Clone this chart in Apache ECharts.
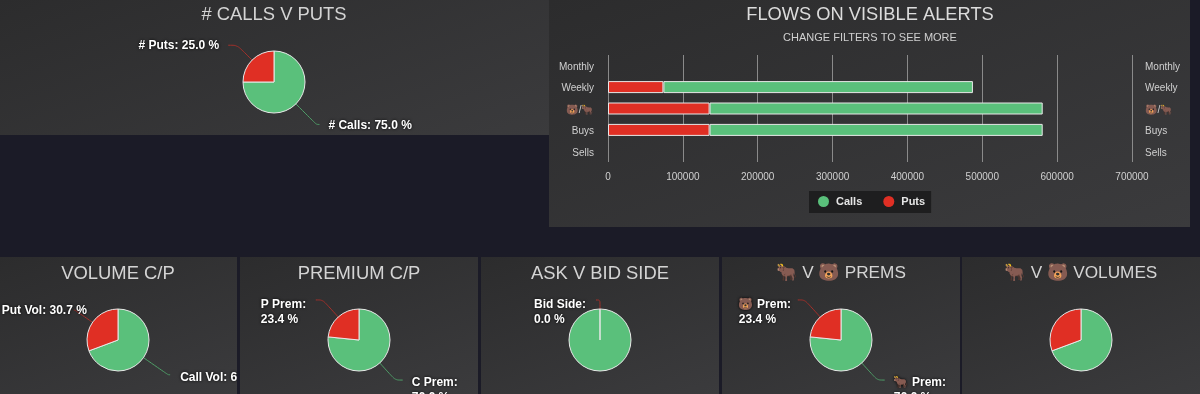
<!DOCTYPE html>
<html><head><meta charset="utf-8">
<style>
html,body{margin:0;padding:0;background:#1b1b27;width:1200px;height:394px;overflow:hidden}
.p{position:absolute;background:linear-gradient(160deg,#2c2c2d 0%,#3b3b3d 100%);overflow:hidden}
</style>
<script src="https://cdn.jsdelivr.net/npm/echarts@6/dist/echarts.min.js"></script>
</head><body>
<script>
const flowCategories = ['Monthly','Weekly','🐻/🐂','Buys','Sells'];
const flowPuts  = [0, 74000, 135700, 135700, 0];
const flowCalls = [0, 413500, 445000, 445000, 0];
const countNames = ['# Calls','# Puts'];
const countValues = [75.0, 25.0];
const volumeNames = ['Call Vol','Put Vol'];
const volumeValues = [69.3, 30.7];
const premiumNames = ['C Prem','P Prem'];
const premiumValues = [76.6, 23.4];
const sideNames = ['Ask Side','Bid Side'];
const sideValues = [100.0, 0.0];
const bullBearPremNames = ['🐂 Prem','🐻 Prem'];
const bullBearPremValues = [76.6, 23.4];
const bullBearVolNames = ['🐂 Vol','🐻 Vol'];
const bullBearVolValues = [69.3, 30.7];

const GREEN='#5ac07b', RED='#e02f24', FONT='"Liberation Sans","Noto Color Emoji",sans-serif';
function panel(x,y,w,h){
  const d=document.createElement('div');d.className='p';
  d.style.cssText=`left:${x}px;top:${y}px;width:${w}px;height:${h}px`;
  document.body.appendChild(d);
  return echarts.init(d,null,{renderer:'canvas'});
}
function pie(box,title,names,values,o){
  const c=panel(...box);
  const base={color:'#fff',fontSize:12,fontWeight:'bold',fontFamily:FONT,lineHeight:15,textShadowColor:'#000',textShadowBlur:3};
  c.setOption({
    animation:false,
    title:{text:title,left:o.cx,top:o.ty,padding:0,textAlign:'center',textStyle:{color:'#d4d4d4',fontSize:o.ts||18.4,fontWeight:'normal',fontFamily:FONT}},
    series:[{type:'pie',center:[o.cx,o.cy],radius:[0,31],startAngle:o.start||90,clockwise:true,stillShowZeroSum:true,
      silent:true,avoidLabelOverlap:false,
      itemStyle:{borderColor:'#e8e8e8',borderWidth:1},
      label:{...base,overflow:'none'},
      data:names.map((n,i)=>{
        const l=(o.lab||[])[i];
        const wrap=l&&l.width;
        return {name:n,value:values[i],
          itemStyle:{color:i?RED:GREEN},
          label:l?{show:true,distanceToLabelLine:l.dist,padding:[l.pad||0,0,0,0],
            formatter:wrap?`{a|${n}:}\n{a|${values[i].toFixed(1)} %}`:`{a|${n}: ${values[i].toFixed(1)} %}`,
            rich:{a:wrap?{...base,width:l.width,align:'left'}:{...base}}}:{show:false},
          labelLine:l?{show:true,length:l.len,length2:l.len2,smooth:true,lineStyle:{width:1,color:i?'#a5302a':'#4f9e68'}}:{show:false}};
      })
    }]
  });
}
pie([0,0,549,135],'# CALLS V PUTS',countNames,countValues,{cx:274,cy:82,ty:6,
  lab:[{len:29,len2:3,dist:9,pad:2},{len:21,len2:9,dist:9}]});
const by=257,bh=137;
pie([0,by,237,bh],'VOLUME C/P',volumeNames,volumeValues,{cx:118,cy:83,ty:8,
  lab:[{len:30,len2:2,dist:10,pad:6},{len:21.5,len2:1,dist:-13,pad:2}]});
pie([240,by,238,bh],'PREMIUM C/P',premiumNames,premiumValues,{cx:119,cy:83,ty:8,
  lab:[{len:23,len2:7.5,dist:9,pad:21,width:46},{len:23,len2:7,dist:9,pad:24,width:46}]});
pie([481,by,238,bh],'ASK V BID SIDE',sideNames,sideValues,{cx:119,cy:83,ty:8,start:90.0001,
  lab:[null,{len:9,len2:4,dist:10,pad:25,width:52}]});
pie([722,by,238,bh],'🐂 V 🐻 PREMS',bullBearPremNames,bullBearPremValues,{cx:119,cy:83,ty:8,ts:17.2,
  lab:[{len:23,len2:7.5,dist:9,pad:21,width:48},{len:23,len2:7,dist:9,pad:24,width:50}]});
pie([962,by,238,bh],'🐂 V 🐻 VOLUMES',bullBearVolNames,bullBearVolValues,{cx:119,cy:83,ty:8,ts:17.2});

const bar=panel(549,0,641,227);
const axisTxt={color:'#d0d0d0',fontSize:10,fontFamily:FONT};
const rowLabel={...axisTxt,formatter:v=>`{a|${v}}`,rich:{a:{...axisTxt,padding:[3,0,0,0]}}};
bar.setOption({
  animation:false,
  title:{text:'FLOWS ON VISIBLE ALERTS',subtext:'CHANGE FILTERS TO SEE MORE',left:321,top:6,padding:0,textAlign:'center',itemGap:8,
    textStyle:{color:'#dcdcdc',fontSize:18.3,fontWeight:'normal',fontFamily:FONT},
    subtextStyle:{color:'#d0d0d0',fontSize:11,fontFamily:FONT}},
  legend:{data:['Calls','Puts'],left:260,top:191,itemWidth:11,itemHeight:11,icon:'circle',itemGap:21,
    backgroundColor:'#1e1e1f',borderRadius:0,padding:[5,6,6,9],
    itemStyle:{borderWidth:0},
    textStyle:{color:'#e6e6e6',fontSize:11,fontWeight:'bold',fontFamily:FONT,padding:[0,0,0,2]}},
  grid:{left:59,right:58,top:55,height:107},
  xAxis:{type:'value',min:0,max:700000,interval:100000,
    axisLine:{show:false},axisTick:{show:false},
    splitLine:{lineStyle:{color:'#8a8a8a',width:1}},
    axisLabel:{...axisTxt,margin:10,formatter:v=>String(v)}},
  yAxis:[
    {type:'category',inverse:true,data:flowCategories,axisLine:{show:false},axisTick:{show:false},axisLabel:{...rowLabel,margin:14}},
    {type:'category',inverse:true,position:'right',data:flowCategories,axisLine:{show:false},axisTick:{show:false},axisLabel:{...rowLabel,margin:13}}
  ],
  series:[
    {name:'Puts',type:'bar',stack:'f',barWidth:12,data:flowPuts.map(v=>v||null),itemStyle:{color:RED,borderColor:'#e8e8e8',borderWidth:1}},
    {name:'Calls',type:'bar',stack:'f',barWidth:12,data:flowCalls.map(v=>v||null),itemStyle:{color:GREEN,borderColor:'#e8e8e8',borderWidth:1}}
  ]
});
</script>
</body></html>
